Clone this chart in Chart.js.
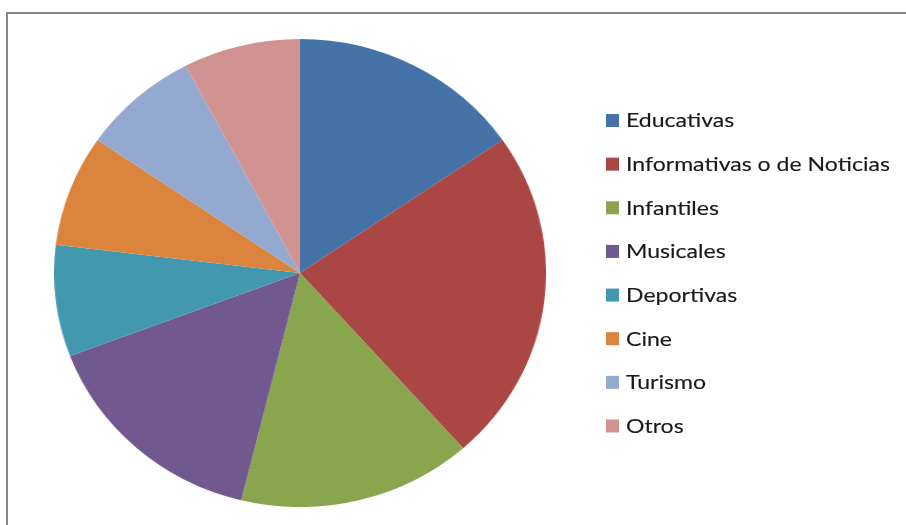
<!DOCTYPE html>
<html>
<head>
<meta charset="utf-8">
<script src="https://cdn.jsdelivr.net/npm/chart.js@4"></script>
<style>
  html, body { margin: 0; padding: 0; background: #fff; }
  body { width: 906px; height: 525px; position: relative; overflow: hidden; }
  #frame { position: absolute; left: 6px; top: 12px; width: 960px; height: 600px;
           border-top: 2px solid #868686; border-left: 2px solid #868686; box-sizing: border-box; }
  #pie { position: absolute; left: 66px; top: 39px; width: 468px; height: 468px;
         transform: scaleX(1.0513); transform-origin: 50% 50%; }
  #legend { position: absolute; left: 0; top: 0; }
  #legend text { font-family: Lato, "Open Sans", sans-serif; font-size: 20px; fill: #1a1a1a;
                 stroke: #1a1a1a; stroke-width: 0.15px; }
</style>
</head>
<body>
<div id="frame"></div>
<canvas id="pie" width="468" height="468"></canvas>
<svg id="legend" width="906" height="525" xmlns="http://www.w3.org/2000/svg"></svg>
<script>
const categories = ["Educativas", "Informativas o de Noticias", "Infantiles", "Musicales",
                    "Deportivas", "Cine", "Turismo", "Otros"];
const values = [2, 3, 2, 2, 1, 1, 1, 1];
const colors = ["#4572A7", "#AA4643", "#89A54E", "#71588F", "#4198AF", "#DB843D", "#93A9CF", "#D19392"];

new Chart(document.getElementById("pie"), {
  type: "pie",
  data: {
    labels: categories,
    datasets: [{ data: values, backgroundColor: colors, borderWidth: 0, hoverOffset: 0 }]
  },
  options: {
    responsive: false,
    animation: false,
    layout: { padding: 0 },
    plugins: { legend: { display: false }, tooltip: { enabled: false } }
  }
});

// Legend (SVG text)
const svg = document.getElementById("legend");
const NS = "http://www.w3.org/2000/svg";
const firstBaseline = 127.5, rowStep = 43.64, boxX = 606, textX = 626, targetWidth = 264;
const textGroup = document.createElementNS(NS, "g");
svg.appendChild(textGroup);
categories.forEach((c, i) => {
  const base = firstBaseline + i * rowStep;
  const r = document.createElementNS(NS, "rect");
  r.setAttribute("x", boxX); r.setAttribute("y", base - 13.5);
  r.setAttribute("width", 13); r.setAttribute("height", 13);
  r.setAttribute("fill", colors[i]);
  svg.appendChild(r);
  const t = document.createElementNS(NS, "text");
  t.setAttribute("x", 0); t.setAttribute("y", base);
  t.textContent = c;
  textGroup.appendChild(t);
});
function fitLegend() {
  let maxW = 0;
  textGroup.querySelectorAll("text").forEach(t => { maxW = Math.max(maxW, t.getComputedTextLength()); });
  const s = maxW > 0 ? targetWidth / maxW : 1;
  textGroup.setAttribute("transform", `translate(${textX},0) scale(${s},1)`);
}
fitLegend();
if (document.fonts && document.fonts.ready) document.fonts.ready.then(fitLegend);
</script>
</body>
</html>
